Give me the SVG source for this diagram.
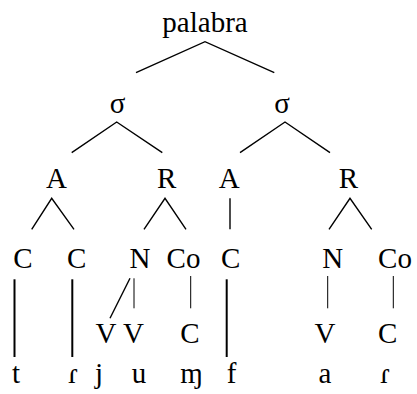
<svg xmlns="http://www.w3.org/2000/svg" width="417" height="394" viewBox="0 0 417 394">
<style>
text{font-family:'Liberation Serif','Times New Roman',serif;font-size:29px;fill:#000;text-anchor:middle}
.e{stroke:#000;stroke-width:1.4;fill:none;stroke-linecap:butt}
.t{stroke:#000;stroke-width:2;fill:none}
.s{stroke:#000;stroke-width:1;fill:none}
</style>
<rect width="417" height="394" fill="#fff"/>
<g id="connectors">
<path class="e" d="M136,72.7 L205,41.7 L274.3,72.7"/>
<path class="e" d="M71.7,152.7 L116.7,122 L162.3,152.7"/>
<path class="e" d="M240,152.7 L285,122 L330,152.7"/>
<path class="e" d="M31.7,229.3 L51.7,198.3 L74,229.3"/>
<path class="e" d="M144,229.3 L165,198.3 L186,229.3"/>
<path class="e" d="M230,198.3 L230,229.3"/>
<path class="e" d="M329,229.3 L350,198.3 L371.7,229.3"/>
<path class="t" d="M14.5,279.3 L14.5,357"/>
<path class="t" d="M72.3,279.3 L72.3,357"/>
<path class="t" d="M226.7,279.3 L226.7,357"/>
<path class="e" d="M130,278.3 L110,318.3"/>
<path class="s" d="M134,278.3 L134,308.3"/>
<path class="s" d="M190.7,276 L190.7,308.3"/>
<path class="s" d="M327.7,276 L327.7,308.3"/>
<path class="s" d="M393.3,276 L393.3,308.3"/>
</g>
<g id="n-palabra"><text x="205" y="32.3">palabra</text></g>
<g id="n-s1"><text x="117.5" y="112.7">σ</text></g>
<g id="n-s2"><text x="282" y="112.7">σ</text></g>
<g id="n-A1"><text x="56.5" y="187.7">A</text></g>
<g id="n-R1"><text x="166.7" y="187.7">R</text></g>
<g id="n-A2"><text x="229.3" y="187.7">A</text></g>
<g id="n-R2"><text x="348.3" y="187.7">R</text></g>
<g id="n-C1"><text x="23" y="268">C</text></g>
<g id="n-C2"><text x="76.7" y="268">C</text></g>
<g id="n-N1"><text x="140" y="268">N</text></g>
<g id="n-Co1"><text x="183.5" y="268">Co</text></g>
<g id="n-C3"><text x="230.7" y="268">C</text></g>
<g id="n-N2"><text x="332.7" y="268">N</text></g>
<g id="n-Co2"><text x="395" y="268">Co</text></g>
<g id="n-V1"><text x="106" y="343.3">V</text></g>
<g id="n-V2"><text x="133.5" y="343.3">V</text></g>
<g id="n-C4"><text x="190" y="343.3">C</text></g>
<g id="n-V3"><text x="325" y="343.3">V</text></g>
<g id="n-C5"><text x="387.7" y="343.3">C</text></g>
<g id="n-t"><text x="16" y="383">t</text></g>
<g id="n-r1"><text x="73" y="383">ɾ</text></g>
<g id="n-j"><text x="99" y="383">j</text></g>
<g id="n-u"><text x="139" y="383">u</text></g>
<g id="n-m"><text x="191.5" y="383">ɱ</text></g>
<g id="n-f"><text x="231.7" y="383">f</text></g>
<g id="n-a"><text x="325" y="383">a</text></g>
<g id="n-r2"><text x="385" y="383">ɾ</text></g>
</svg>
